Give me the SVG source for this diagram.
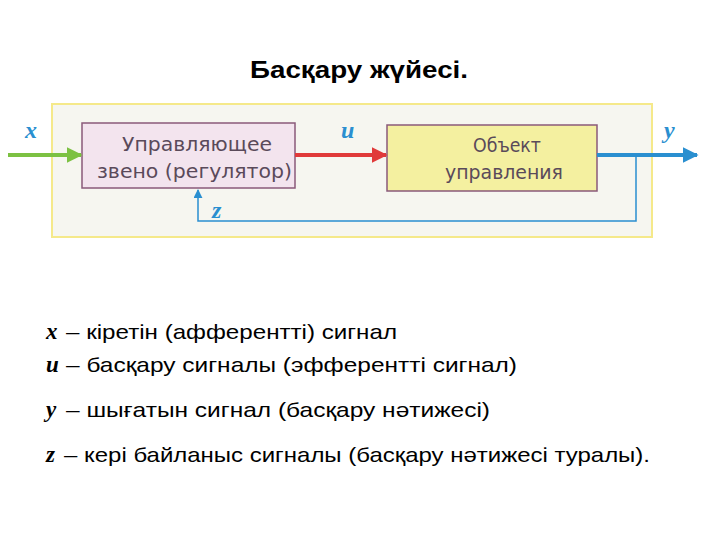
<svg xmlns="http://www.w3.org/2000/svg" width="720" height="540" viewBox="0 0 720 540">
<style>
.box{font-family:"DejaVu Sans",sans-serif;font-size:19px;fill:#5a4a5a}
.v{font-family:"Liberation Serif",serif;font-style:italic;font-weight:bold;fill:#2a8fd0;font-size:24px}
.lv{font-family:"Liberation Serif",serif;font-style:italic;font-weight:bold;font-size:23px;fill:#000}
.t{font-family:"Liberation Sans",sans-serif;font-size:21px;fill:#000}
</style>
<defs>
<marker id="ag" viewBox="0 0 10 10" refX="9" refY="5" markerWidth="4" markerHeight="4" orient="auto"><path d="M0,0L10,5L0,10z" fill="#7cc142"/></marker>
<marker id="ar" viewBox="0 0 10 10" refX="9" refY="5" markerWidth="4" markerHeight="4" orient="auto"><path d="M0,0L10,5L0,10z" fill="#e03a3a"/></marker>
<marker id="ab" viewBox="0 0 10 10" refX="9" refY="5" markerWidth="4" markerHeight="4" orient="auto"><path d="M0,0L10,5L0,10z" fill="#2a8fd0"/></marker>
<marker id="ab2" viewBox="0 0 10 10" refX="9" refY="5" markerWidth="6" markerHeight="6" orient="auto"><path d="M0,0L10,5L0,10z" fill="#2a8fd0"/></marker>
</defs>
<rect width="720" height="540" fill="#fff"/>
<text x="250" y="78" textLength="218" lengthAdjust="spacingAndGlyphs" font-family="Liberation Sans,sans-serif" font-weight="bold" font-size="23">Басқару жүйесі.</text>
<rect x="52" y="104" width="600" height="133" fill="#f6f6f0" stroke="#f5e98a" stroke-width="2"/>
<g id="regulator"><rect x="82" y="123" width="213" height="65" fill="#f3e4ee" stroke="#8a5a7a" stroke-width="1.5"/>
<text class="box" x="122" y="151" textLength="150" lengthAdjust="spacingAndGlyphs">Управляющее</text><text class="box" x="97" y="178" textLength="195" lengthAdjust="spacingAndGlyphs">звено (регулятор)</text></g>
<g id="object"><rect x="387" y="125" width="210" height="66" fill="#f4f0a0" stroke="#8a5a7a" stroke-width="1.5"/>
<text class="box" x="473" y="152" textLength="68" lengthAdjust="spacingAndGlyphs">Объект</text><text class="box" x="445" y="179" textLength="118" lengthAdjust="spacingAndGlyphs">управления</text></g>
<g id="connectors" fill="none">
<line x1="8" y1="155" x2="81" y2="155" stroke="#7cc142" stroke-width="4" marker-end="url(#ag)"/>
<line x1="295" y1="155" x2="386" y2="155" stroke="#e03a3a" stroke-width="4" marker-end="url(#ar)"/>
<line x1="597" y1="155" x2="697" y2="155" stroke="#2a8fd0" stroke-width="4" marker-end="url(#ab)"/>
<polyline points="636,155 636,221 198,221 198,190" stroke="#2a8fd0" stroke-width="1.5" marker-end="url(#ab2)"/>
</g>
<text class="v" x="25" y="138">x</text>
<text class="v" x="341" y="138">u</text>
<text class="v" x="664" y="138">y</text>
<text class="v" x="212" y="218">z</text>
<text class="lv" x="46" y="339">x</text><text class="t" x="66" y="339" textLength="331" lengthAdjust="spacingAndGlyphs">–  кіретін (афферентті) сигнал</text>
<text class="lv" x="46" y="372">u</text><text class="t" x="66" y="372" textLength="451" lengthAdjust="spacingAndGlyphs">–  басқару сигналы (эфферентті сигнал)</text>
<text class="lv" x="46" y="417">y</text><text class="t" x="66" y="417" textLength="424" lengthAdjust="spacingAndGlyphs">–  шығатын сигнал (басқару нәтижесі)</text>
<text class="lv" x="46" y="462">z</text><text class="t" x="64" y="462" textLength="586" lengthAdjust="spacingAndGlyphs">– кері байланыс сигналы (басқару нәтижесі туралы).</text>
</svg>
